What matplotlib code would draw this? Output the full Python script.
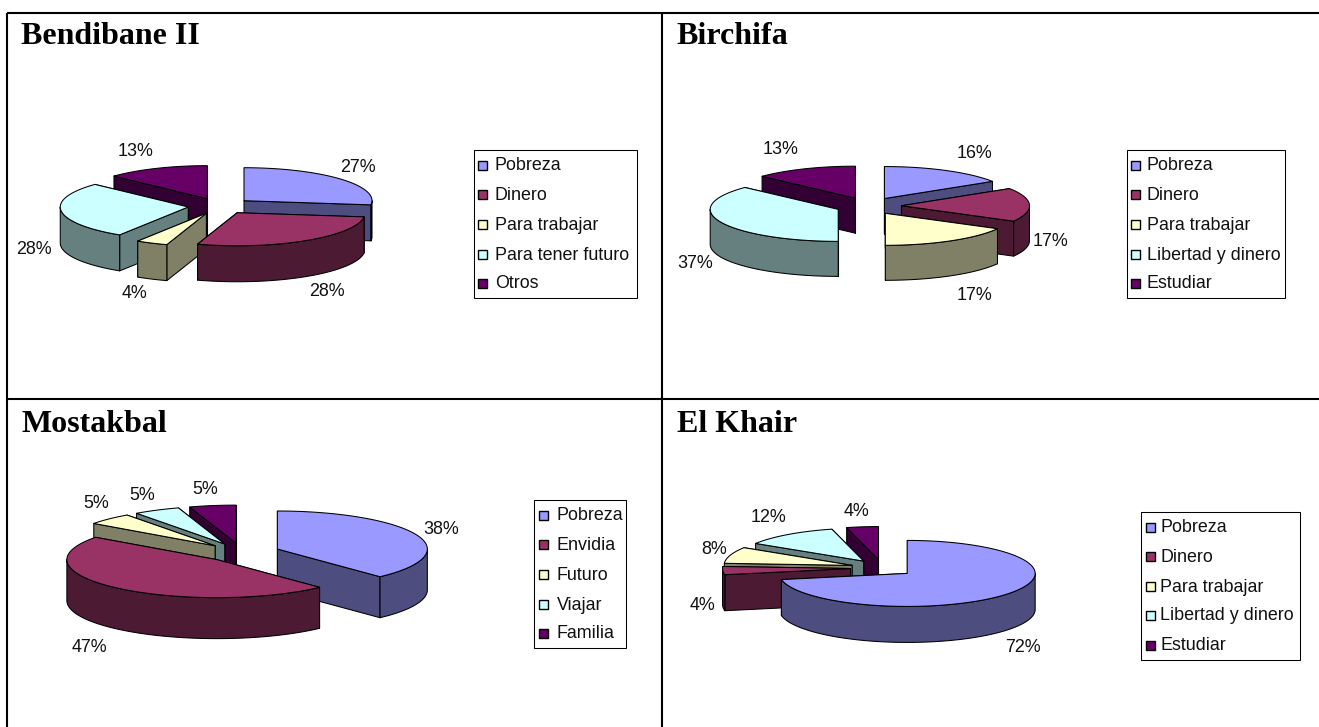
import numpy as np
import matplotlib
matplotlib.use("Agg")
import matplotlib.pyplot as plt
from matplotlib.patches import Polygon, Rectangle

W, H = 1319, 727

# ---- data ----
bendibane_labels = ["Pobreza", "Dinero", "Para trabajar", "Para tener futuro", "Otros"]
bendibane_values = [27, 28, 4, 28, 13]
birchifa_labels = ["Pobreza", "Dinero", "Para trabajar", "Libertad y dinero", "Estudiar"]
birchifa_values = [16, 17, 17, 37, 13]
mostakbal_labels = ["Pobreza", "Envidia", "Futuro", "Viajar", "Familia"]
mostakbal_values = [38, 47, 5, 5, 5]
elkhair_labels = ["Pobreza", "Dinero", "Para trabajar", "Libertad y dinero", "Estudiar"]
elkhair_values = [72, 4, 8, 12, 4]

# ---- style ----
top_colors = ["#9999FF", "#993366", "#FFFFCC", "#CCFFFF", "#660066"]
side_colors = ["#4D4D80", "#4D1A33", "#808066", "#668080", "#330033"]
TEXT = "#111111"
SANS = "Liberation Sans"
SERIF = "Liberation Serif"

panels = [
    dict(title="Bendibane II", labels=bendibane_labels, values=bendibane_values,
         title_xy=(21, 36), c=(220, 206), rx=128, ry=33, depth=36, ex=32, ey=8,
         pct_xy=[(358, 167), (327, 292), (135, 294), (34, 250), (136, 152)],
         box=(474, 150, 637, 298), rows=[166, 195, 225, 255, 284], mark_x=482, text_x=495),
    dict(title="Birchifa", labels=birchifa_labels, values=birchifa_values,
         title_xy=(676, 36), c=(868.5, 206), rx=128, ry=32, depth=35, ex=33, ey=8.5,
         pct_xy=[(974, 153), (1051, 242), (974, 295), (695, 264), (781, 150)],
         box=(1127, 150, 1285, 298), rows=[166, 195, 225, 255, 284], mark_x=1135, text_x=1147),
    dict(title="Mostakbal", labels=mostakbal_labels, values=mostakbal_values,
         title_xy=(21, 425), c=(242, 552.5), rx=150, ry=38, depth=41, ex=38, ey=9.5,
         pct_xy=[(441, 530), (89, 648), (96, 503), (142, 496), (205, 489)],
         box=(534, 500, 626, 648), rows=[516, 545, 575, 605, 634], mark_x=543, text_x=557),
    dict(title="El Khair", labels=elkhair_labels, values=elkhair_values,
         title_xy=(677, 425), c=(882.5, 568), rx=128, ry=33, depth=36, ex=32, ey=8.5,
         pct_xy=[(1023, 647), (703, 605), (714, 550), (768, 518), (856, 511)],
         box=(1141, 512, 1300, 660), rows=[528, 557, 587, 616, 646], mark_x=1150, text_x=1160),
]

fig = plt.figure(figsize=(W / 100, H / 100), dpi=100, facecolor="white")
ax = fig.add_axes([0, 0, 1, 1])
ax.set_xlim(0, W)
ax.set_ylim(H, 0)
ax.axis("off")

EDGE = dict(edgecolor="black", linewidth=0.75, joinstyle="round")


def arc(cx, cy, rx, ry, a0, a1, dz=0.0):
    t = np.radians(np.linspace(a0, a1, max(2, int(abs(a1 - a0)) + 2)))
    return np.column_stack([cx + rx * np.sin(t), cy - ry * np.cos(t) + dz])


def draw_pie(p):
    vals = np.asarray(p["values"], float)
    ang = np.concatenate([[0], np.cumsum(vals)]) * 360.0 / vals.sum()
    mids = (ang[:-1] + ang[1:]) / 2
    cx, cy = p["c"]
    rx, ry, d = p["rx"], p["ry"], p["depth"]
    wedges = []
    for i in range(len(vals)):
        m = np.radians(mids[i])
        tx, ty = cx + p["ex"] * np.sin(m), cy - p["ey"] * np.cos(m)
        top = np.vstack([[[tx, ty]], arc(tx, ty, rx, ry, ang[i], ang[i + 1])])
        wedges.append((top[:, 1].max(), i, tx, ty, top))
    wedges.sort(key=lambda w: w[0])
    for z, (_, i, tx, ty, top) in enumerate(wedges):
        a0, a1 = ang[i], ang[i + 1]
        fc, sc = top_colors[i], side_colors[i]
        zb = 2 + z * 10
        walls = []
        for a in (a0, a1):
            e = arc(tx, ty, rx, ry, a, a)[0]
            walls.append(np.array([[tx, ty], e, e + [0, d], [tx, ty + d]]))
        walls.sort(key=lambda w: w[:, 1].mean())
        for n, w in enumerate(walls):
            ax.add_patch(Polygon(w, closed=True, facecolor=sc, zorder=zb + n, **EDGE))
        lo, hi = max(a0, 90), min(a1, 270)
        if hi > lo:
            up = arc(tx, ty, rx, ry, lo, hi)
            dn = arc(tx, ty, rx, ry, lo, hi, d)[::-1]
            ax.add_patch(Polygon(np.vstack([up, dn]), closed=True, facecolor=sc,
                                 zorder=zb + 3, **EDGE))
        ax.add_patch(Polygon(top, closed=True, facecolor=fc, zorder=zb + 4, **EDGE))
    for v, (x, y) in zip(p["values"], p["pct_xy"]):
        ax.text(x, y, f"{v}%", ha="center", va="center", fontsize=12.9,
                family=SANS, color=TEXT, zorder=100)


def draw_legend(p):
    x0, y0, x1, y1 = p["box"]
    ax.add_patch(Rectangle((x0, y0), x1 - x0, y1 - y0, facecolor="white",
                           edgecolor="black", linewidth=0.75, zorder=90))
    for i, (lab, y) in enumerate(zip(p["labels"], p["rows"])):
        ax.add_patch(Rectangle((p["mark_x"] - 4.5, y - 5.5), 9, 9, facecolor=top_colors[i],
                               edgecolor="black", linewidth=1.0, zorder=91))
        ax.text(p["text_x"], y, lab, ha="left", va="center", fontsize=12.9,
                family=SANS, color=TEXT, zorder=92)


for p in panels:
    draw_pie(p)
    draw_legend(p)
    ax.text(*p["title_xy"], p["title"], ha="left", va="center", fontsize=23,
            family=SERIF, weight="bold", color="black", zorder=100)

# table rules
for xs, ys, lw in [((7, 7), (13, H), 1.5), ((7, W), (13, 13), 1.5),
                   ((662, 662), (13, H), 1.5), ((7, W), (399, 399), 1.5)]:
    ax.plot(xs, ys, color="black", lw=lw, solid_capstyle="butt", zorder=120)

fig.savefig("out.png", dpi=100)
